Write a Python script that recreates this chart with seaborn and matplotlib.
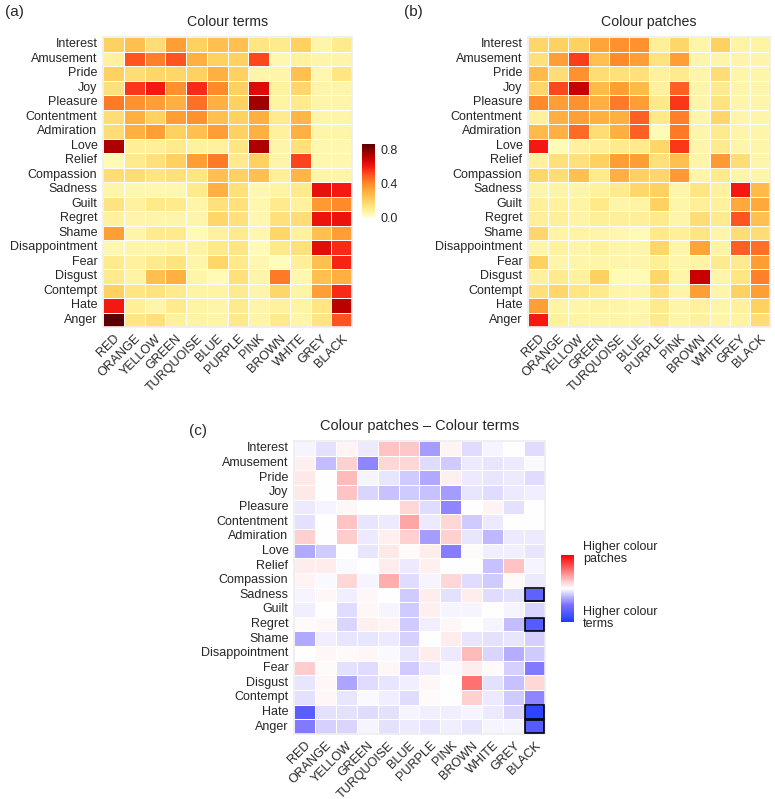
import numpy as np
import pandas as pd
import matplotlib
matplotlib.use("Agg")
import matplotlib.pyplot as plt
from matplotlib.colors import LinearSegmentedColormap
from matplotlib.patches import Rectangle
import seaborn as sns

emotions = ["Interest", "Amusement", "Pride", "Joy", "Pleasure", "Contentment",
            "Admiration", "Love", "Relief", "Compassion", "Sadness", "Guilt",
            "Regret", "Shame", "Disappointment", "Fear", "Disgust", "Contempt",
            "Hate", "Anger"]
colours = ["RED", "ORANGE", "YELLOW", "GREEN", "TURQUOISE", "BLUE", "PURPLE",
           "PINK", "BROWN", "WHITE", "GREY", "BLACK"]

# (a) Colour terms
terms = [
    [0.20, 0.25, 0.15, 0.35, 0.20, 0.25, 0.25, 0.12, 0.10, 0.20, 0.05, 0.10],
    [0.07, 0.50, 0.42, 0.50, 0.30, 0.20, 0.20, 0.52, 0.04, 0.07, 0.05, 0.05],
    [0.20, 0.15, 0.18, 0.18, 0.20, 0.30, 0.20, 0.05, 0.05, 0.25, 0.04, 0.12],
    [0.14, 0.55, 0.60, 0.38, 0.57, 0.40, 0.20, 0.65, 0.07, 0.18, 0.05, 0.05],
    [0.43, 0.38, 0.35, 0.30, 0.45, 0.30, 0.20, 0.76, 0.06, 0.10, 0.05, 0.05],
    [0.15, 0.30, 0.20, 0.35, 0.38, 0.25, 0.20, 0.30, 0.10, 0.28, 0.05, 0.05],
    [0.15, 0.30, 0.35, 0.20, 0.25, 0.35, 0.20, 0.30, 0.07, 0.30, 0.05, 0.05],
    [0.74, 0.08, 0.08, 0.10, 0.07, 0.07, 0.12, 0.74, 0.05, 0.14, 0.04, 0.04],
    [0.03, 0.10, 0.14, 0.20, 0.35, 0.43, 0.10, 0.20, 0.05, 0.53, 0.04, 0.04],
    [0.15, 0.15, 0.12, 0.14, 0.12, 0.25, 0.20, 0.25, 0.08, 0.28, 0.05, 0.05],
    [0.05, 0.04, 0.04, 0.04, 0.10, 0.30, 0.14, 0.04, 0.06, 0.10, 0.63, 0.60],
    [0.13, 0.07, 0.11, 0.10, 0.05, 0.14, 0.14, 0.04, 0.10, 0.07, 0.36, 0.40],
    [0.07, 0.05, 0.05, 0.05, 0.05, 0.18, 0.14, 0.04, 0.14, 0.15, 0.62, 0.62],
    [0.35, 0.05, 0.10, 0.10, 0.03, 0.07, 0.10, 0.04, 0.18, 0.07, 0.25, 0.35],
    [0.04, 0.05, 0.05, 0.06, 0.06, 0.11, 0.12, 0.03, 0.11, 0.14, 0.64, 0.57],
    [0.10, 0.07, 0.10, 0.13, 0.05, 0.18, 0.11, 0.04, 0.02, 0.08, 0.25, 0.58],
    [0.10, 0.06, 0.25, 0.30, 0.05, 0.03, 0.14, 0.05, 0.43, 0.04, 0.25, 0.30],
    [0.20, 0.12, 0.13, 0.10, 0.06, 0.06, 0.10, 0.05, 0.18, 0.06, 0.35, 0.57],
    [0.60, 0.08, 0.05, 0.10, 0.06, 0.05, 0.10, 0.05, 0.07, 0.06, 0.12, 0.72],
    [0.87, 0.12, 0.14, 0.07, 0.06, 0.05, 0.11, 0.05, 0.10, 0.05, 0.12, 0.50],
]

# (b) Colour patches
patches = [
    [0.18, 0.20, 0.20, 0.33, 0.38, 0.38, 0.08, 0.18, 0.05, 0.20, 0.06, 0.06],
    [0.14, 0.35, 0.54, 0.25, 0.40, 0.35, 0.13, 0.35, 0.05, 0.05, 0.05, 0.05],
    [0.27, 0.15, 0.38, 0.15, 0.14, 0.14, 0.07, 0.10, 0.05, 0.15, 0.05, 0.05],
    [0.18, 0.52, 0.70, 0.27, 0.35, 0.27, 0.07, 0.48, 0.05, 0.10, 0.05, 0.05],
    [0.40, 0.35, 0.38, 0.30, 0.43, 0.35, 0.11, 0.55, 0.05, 0.13, 0.05, 0.05],
    [0.07, 0.30, 0.34, 0.30, 0.30, 0.48, 0.11, 0.42, 0.05, 0.18, 0.05, 0.05],
    [0.27, 0.30, 0.46, 0.15, 0.30, 0.48, 0.03, 0.43, 0.05, 0.10, 0.05, 0.05],
    [0.60, 0.03, 0.07, 0.08, 0.10, 0.10, 0.18, 0.55, 0.05, 0.10, 0.05, 0.05],
    [0.07, 0.14, 0.14, 0.20, 0.35, 0.35, 0.14, 0.25, 0.05, 0.36, 0.15, 0.05],
    [0.18, 0.15, 0.25, 0.10, 0.30, 0.20, 0.18, 0.36, 0.05, 0.10, 0.05, 0.05],
    [0.05, 0.06, 0.05, 0.07, 0.10, 0.18, 0.20, 0.05, 0.12, 0.07, 0.60, 0.27],
    [0.08, 0.07, 0.06, 0.11, 0.05, 0.06, 0.20, 0.05, 0.08, 0.07, 0.32, 0.32],
    [0.08, 0.08, 0.06, 0.08, 0.08, 0.08, 0.10, 0.05, 0.15, 0.10, 0.50, 0.25],
    [0.18, 0.06, 0.06, 0.05, 0.04, 0.03, 0.11, 0.08, 0.12, 0.05, 0.15, 0.15],
    [0.05, 0.07, 0.05, 0.07, 0.05, 0.05, 0.18, 0.05, 0.33, 0.06, 0.48, 0.45],
    [0.20, 0.05, 0.05, 0.05, 0.05, 0.05, 0.08, 0.05, 0.06, 0.10, 0.10, 0.35],
    [0.07, 0.10, 0.07, 0.20, 0.03, 0.03, 0.18, 0.05, 0.70, 0.05, 0.12, 0.42],
    [0.14, 0.18, 0.12, 0.10, 0.05, 0.05, 0.14, 0.05, 0.35, 0.05, 0.20, 0.35],
    [0.35, 0.06, 0.05, 0.06, 0.05, 0.04, 0.10, 0.05, 0.07, 0.05, 0.07, 0.20],
    [0.60, 0.07, 0.06, 0.05, 0.05, 0.05, 0.10, 0.05, 0.07, 0.05, 0.06, 0.15],
]

# (c) Colour patches - Colour terms
diff = [
    [-0.02, -0.06, 0.03, -0.04, 0.15, 0.14, -0.20, 0.03, -0.07, -0.02, 0.00, -0.07],
    [0.04, -0.13, 0.12, -0.25, 0.10, 0.10, -0.07, -0.10, -0.04, -0.05, -0.04, -0.01],
    [0.06, 0.00, 0.17, -0.02, -0.05, -0.10, -0.17, 0.04, -0.04, -0.05, -0.04, -0.07],
    [0.06, 0.00, 0.15, -0.08, -0.12, -0.10, -0.12, -0.20, -0.05, -0.07, -0.04, -0.03],
    [-0.04, -0.02, 0.02, 0.00, 0.00, 0.10, -0.07, -0.25, 0.00, 0.03, -0.06, 0.00],
    [-0.06, 0.00, 0.15, -0.05, -0.04, 0.22, -0.04, 0.10, -0.10, -0.04, 0.00, 0.00],
    [0.12, 0.00, 0.13, -0.04, 0.04, 0.12, -0.20, 0.12, -0.05, -0.14, -0.04, -0.04],
    [-0.17, -0.10, 0.00, -0.05, 0.06, 0.01, 0.05, -0.27, 0.01, -0.03, -0.03, -0.05],
    [0.05, 0.05, -0.01, 0.00, 0.05, -0.04, 0.04, 0.00, 0.00, -0.12, 0.15, -0.02],
    [0.03, -0.01, 0.10, -0.02, 0.20, -0.07, -0.02, 0.10, -0.07, -0.10, 0.01, -0.04],
    [-0.02, 0.02, -0.03, 0.02, 0.00, -0.10, 0.05, -0.06, 0.05, -0.07, -0.06, -0.38],
    [-0.03, 0.00, -0.07, 0.02, -0.02, -0.10, 0.04, -0.02, -0.02, 0.00, -0.02, -0.08],
    [0.01, 0.02, -0.08, 0.04, 0.03, -0.10, -0.03, 0.02, 0.00, -0.02, -0.13, -0.42],
    [-0.17, -0.03, -0.05, -0.05, -0.04, -0.09, 0.00, 0.05, -0.05, -0.06, -0.05, -0.09],
    [0.00, 0.02, 0.01, 0.02, -0.01, -0.05, 0.05, -0.04, 0.17, -0.08, -0.16, -0.10],
    [0.13, 0.01, -0.06, -0.07, 0.02, -0.10, -0.04, -0.01, 0.05, 0.01, -0.09, -0.28],
    [-0.05, 0.02, -0.18, -0.07, -0.05, -0.03, 0.02, 0.00, 0.33, -0.06, -0.12, 0.10],
    [-0.06, 0.02, -0.05, -0.01, -0.03, -0.07, 0.01, 0.00, 0.12, -0.04, -0.10, -0.25],
    [-0.40, -0.06, -0.06, -0.07, -0.06, -0.02, -0.03, -0.03, -0.02, -0.04, -0.08, -0.55],
    [-0.28, -0.09, -0.08, -0.02, -0.06, -0.04, -0.05, -0.03, -0.05, -0.02, -0.02, -0.42],
]

# significant cells (emotion, colour) outlined in (c)
significant = [("Sadness", "BLACK"), ("Regret", "BLACK"), ("Hate", "BLACK"), ("Anger", "BLACK")]

sns.set_style("white")
plt.rcParams["font.family"] = ["Liberation Sans", "DejaVu Sans"]

W, H = 775, 799
fig = plt.figure(figsize=(W / 100, H / 100), dpi=100)


def ax_px(x0, y0, x1, y1):
    return fig.add_axes([x0 / W, 1 - y1 / H, (x1 - x0) / W, (y1 - y0) / H])


vmax = 0.87
heat_stops = [(0.00, "#FFFFC6"), (0.10, "#FFEB8C"), (0.20, "#FFD060"),
              (0.30, "#FFB040"), (0.40, "#FF8A2A"), (0.50, "#FF5520"),
              (0.60, "#F51810"), (0.70, "#C80000"), (0.87, "#5A0000")]
heat = LinearSegmentedColormap.from_list("heat", [(v / vmax, c) for v, c in heat_stops])
div = LinearSegmentedColormap.from_list(
    "div", [(0.0, "#1E3CFF"), (0.25, "#7A70FF"), (0.375, "#BAB2FF"),
            (0.5, "#FFFFFF"), (0.625, "#FFC4C4"), (0.75, "#FF8080"), (1.0, "#FF0000")])

df_a = pd.DataFrame(terms, index=emotions, columns=colours)
df_b = pd.DataFrame(patches, index=emotions, columns=colours)
df_c = pd.DataFrame(diff, index=emotions, columns=colours)

FS = 9


def style(ax):
    ax.set_xlabel("")
    ax.set_ylabel("")
    ax.set_xticks(np.arange(len(colours)) + 0.5)
    ax.set_xticklabels(colours, rotation=45, ha="right", rotation_mode="anchor", fontsize=FS)
    ax.set_yticks(np.arange(len(emotions)) + 0.5)
    ax.set_yticklabels(emotions, rotation=0, fontsize=FS)
    ax.tick_params(axis="both", length=2, width=0.6, color="#555555", pad=2)
    for s in ax.spines.values():
        s.set_visible(True)
        s.set_color("#EEEEEE")
        s.set_linewidth(1.2)


# (a)
ax_a = ax_px(103, 37, 352, 327)
cax_a = ax_px(362, 144, 375, 217)
sns.heatmap(df_a, ax=ax_a, cmap=heat, vmin=0, vmax=vmax, linewidths=0.7,
            linecolor="white", cbar_ax=cax_a, cbar_kws={"ticks": [0.0, 0.4, 0.8]})
style(ax_a)
ax_a.set_title("Colour terms", fontsize=10.2, pad=8)
cax_a.tick_params(direction="in", length=3, color="white", labelsize=FS, pad=4)
cax_a.set_yticklabels(["0.0", "0.4", "0.8"])
cax_a.set_ylim(0, vmax)
for s in cax_a.spines.values():
    s.set_visible(False)

# (b)
ax_b = ax_px(528, 37, 770, 327)
sns.heatmap(df_b, ax=ax_b, cmap=heat, vmin=0, vmax=vmax, linewidths=0.7,
            linecolor="white", cbar=False)
style(ax_b)
ax_b.set_title("Colour patches", fontsize=10.2, pad=8)

# (c)
ax_c = ax_px(294, 441, 545, 734)
cax_c = ax_px(561, 555, 574, 622)
sns.heatmap(df_c, ax=ax_c, cmap=div, vmin=-0.6, vmax=0.6, linewidths=0.7,
            linecolor="white", cbar_ax=cax_c)
style(ax_c)
ax_c.set_title("Colour patches \u2013 Colour terms", fontsize=10.5, pad=8)
for emo, col in significant:
    r = emotions.index(emo)
    c = colours.index(col)
    ax_c.add_patch(Rectangle((c + 0.03, r + 0.05), 0.94, 0.9, fill=False,
                             edgecolor="black", linewidth=1.2, zorder=5))
cax_c.set_yticks([])
for s in cax_c.spines.values():
    s.set_visible(False)
fig.text(583 / W, 1 - 553 / H, "Higher colour\npatches", fontsize=FS,
         ha="left", va="center", linespacing=1.1)
fig.text(583 / W, 1 - 618 / H, "Higher colour\nterms", fontsize=FS,
         ha="left", va="center", linespacing=1.1)

# panel letters
fig.text(5 / W, 1 - 12 / H, "(a)", fontsize=11, ha="left", va="center")
fig.text(404 / W, 1 - 12 / H, "(b)", fontsize=11, ha="left", va="center")
fig.text(189 / W, 1 - 431 / H, "(c)", fontsize=11, ha="left", va="center")

fig.savefig("out.png", dpi=100)
